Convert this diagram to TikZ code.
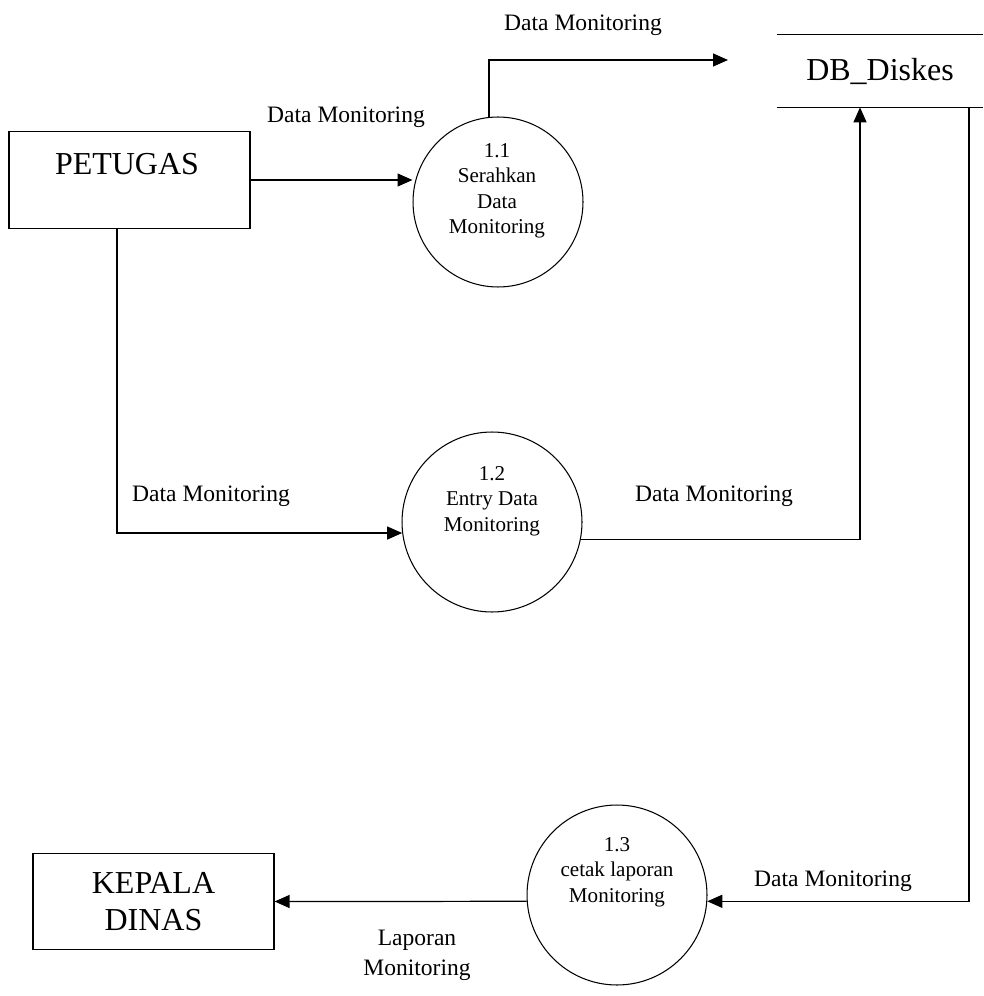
\documentclass[tikz,border=0pt]{standalone}
\usepackage{fontspec}
\setmainfont{Liberation Serif}
\usetikzlibrary{arrows.meta}

\begin{document}
\begin{tikzpicture}[x=0.02cm,y=-0.02cm,
		bigtext/.style={align=center,font=\fontsize{18.2}{21}\selectfont},
		entity/.style={bigtext,draw,line width=0.7pt,minimum width=4.82cm,minimum height=1.93cm,inner sep=0pt},
		proc/.style={draw,circle,line width=0.6pt,inner sep=0pt},
		proctext/.style={align=center,font=\fontsize{12}{14.5}\selectfont},
		flowlabel/.style={align=center,font=\fontsize{13.4}{17}\selectfont},
		flow/.style={line width=0.7pt,-{Triangle[length=0.3cm,width=0.26cm]}}]
		\useasboundingbox (0,0) rectangle (983,996);
		%entities and store
		\node[entity] (petugas) at (129.5,180) {};
		\node[bigtext] (petugastext) at (127,164) {PETUGAS};
		\node[entity] (kepala) at (153.5,901.5) {KEPALA\\DINAS};
		\node[bigtext,minimum width=4.12cm,minimum height=1.44cm,inner sep=0pt] (db) at (880,71) {DB\_Diskes};
		\draw[line width=0.7pt] (db.north west) -- (db.north east);
		\draw[line width=0.7pt] (db.south west) -- (db.south east);
		%processes
		\node[proc,minimum size=3.4cm] (p11) at (498,202) {};
		\node[proctext] (p11text) at (497,191) {1.1\\Serahkan\\Data\\Monitoring};
		\node[proc,minimum size=3.6cm] (p12) at (492,522) {};
		\node[proctext] (p12text) at (492,501) {1.2\\Entry Data\\Monitoring};
		\node[proc,minimum size=3.6cm] (p13) at (617,895) {};
		\node[proctext] (p13text) at (617,872) {1.3\\cetak laporan\\Monitoring};
		%flows
		\coordinate (dbin) at (728,60);
		\draw[flow] (petugas.east) -- (p11.west |- petugas.east);
		\draw[flow] (p11.96) |- (dbin);
		\draw[flow] ([xshift=-0.25cm]petugas.south) |- (p12.187);
		\draw[flow] (p12.-11.5) -| ([xshift=-0.4cm]db.south);
		\draw[flow] ([xshift=1.78cm]db.south) |- (p13.-4.5);
		\draw[flow] (p13.184.5) -- (kepala.east);
		%labels
		\node[flowlabel] (l1) at (346,117) {Data Monitoring};
		\node[flowlabel] (l2) at (583,25) {Data Monitoring};
		\node[flowlabel] (l3) at (211,496) {Data Monitoring};
		\node[flowlabel] (l4) at (714,496) {Data Monitoring};
		\node[flowlabel] (l5) at (833,881) {Data Monitoring};
		\node[flowlabel] (l6) at (417,955) {Laporan\\Monitoring};
	\end{tikzpicture}
\end{document}
